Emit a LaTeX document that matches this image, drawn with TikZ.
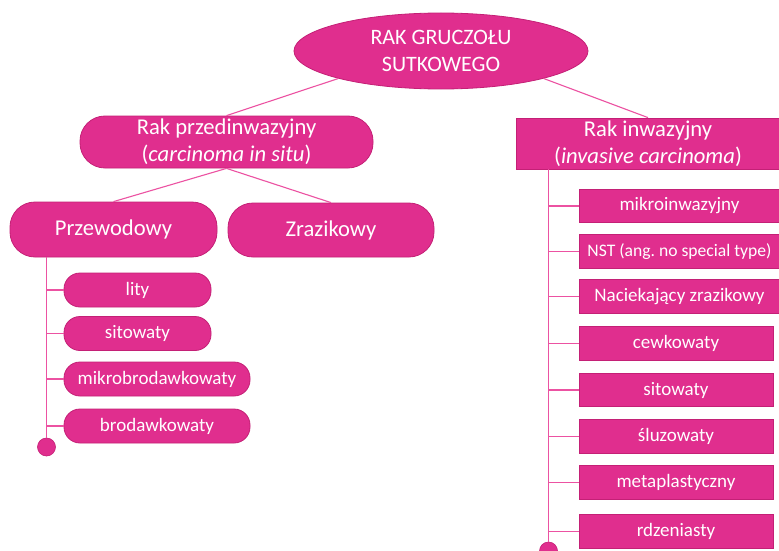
\documentclass[tikz,border=0pt]{standalone}
\usepackage{fontspec}
\setmainfont{Carlito}
\usepackage{tikz}
\usetikzlibrary{shapes.geometric}
\frenchspacing

\definecolor{rakfill}{RGB}{224,46,142}
\definecolor{rakedge}{RGB}{196,32,118}
\definecolor{rakline}{RGB}{236,82,162}

\tikzset{
	rakbase/.style={fill=rakfill,draw=rakedge,line width=0.8pt,text=white,inner sep=0pt,align=center},
	topnode/.style={rakbase,ellipse,font=\fontsize{22}{27.5}\selectfont},
	bignode/.style={rakbase,rounded corners=25pt,font=\fontsize{22.6}{26.8}\selectfont},
	bigbox/.style={rakbase,rectangle,font=\fontsize{22.6}{26.8}\selectfont},
	smallpill/.style={rakbase,rounded corners=16pt,minimum height=34pt,font=\fontsize{19}{22}\selectfont},
	smallbox/.style={rakbase,rectangle,minimum height=33.5pt,font=\fontsize{19}{22}\selectfont},
	enddot/.style={circle,fill=rakfill,draw=rakedge,line width=0.6pt,minimum size=18pt,inner sep=0pt},
	link/.style={draw=rakline,line width=1.1pt}
}

\begin{document}
\begin{tikzpicture}[x=1pt,y=-1pt]
		\clip (0,0) rectangle (779,551);
		\fill [white] (0,0) rectangle (779,551);
		% root
		\node [topnode,minimum width=294pt,minimum height=76pt] (top) at (441,51) {RAK GRUCZOŁU\\SUTKOWEGO};
		% carcinoma in situ
		\node [bignode,minimum width=293pt,minimum height=52pt] (przed) at (226.5,142) {Rak przedinwazyjny\\(\textit{carcinoma in situ})};
		\node [bignode,minimum width=207pt,minimum height=55pt] (przew) at (113.5,229.5) {Przewodowy};
		\node [bignode,minimum width=206pt,minimum height=54pt] (zraz) at (331,230) {Zrazikowy};
		\node [smallpill,minimum width=147pt] (lity) at (137.5,290) {lity};
		\node [smallpill,minimum width=147pt] (sitL) at (137.5,333.5) {sitowaty};
		\node [smallpill,minimum width=186pt] (mikrob) at (157,379) {mikrobrodawkowaty};
		\node [smallpill,minimum width=186pt] (brod) at (157,426) {brodawkowaty};
		\node [enddot] (dotL) at (46.5,447) {};
		% invasive carcinoma
		\node [bigbox,minimum width=264pt,minimum height=51pt] (inw) at (648,143.5) {Rak inwazyjny\\(\textit{invasive carcinoma})};
		\node [smallbox,minimum width=201pt] (mikroi) at (679.5,206) {mikroinwazyjny};
		\node [smallbox,minimum width=201pt,font=\fontsize{17.6}{21}\selectfont] (nst) at (679.5,251.5) {NST (ang. no special type)};
		\node [smallbox,minimum width=201pt] (nacz) at (679.5,296.5) {Naciekający zrazikowy};
		\node [smallbox,minimum width=194pt] (cewk) at (676,343.5) {cewkowaty};
		\node [smallbox,minimum width=194pt] (sitR) at (676,390) {sitowaty};
		\node [smallbox,minimum width=194pt] (sluz) at (676,436.5) {śluzowaty};
		\node [smallbox,minimum width=194pt] (meta) at (676,482.5) {metaplastyczny};
		\node [smallbox,minimum width=194pt] (rdz) at (676,531.5) {rdzeniasty};
		\node [enddot] (dotR) at (548.5,551) {};
		% connectors
		\draw [link] (top.195) -- (przed.north);
		\draw [link] (top.-15) -- (inw.north);
		\draw [link] (przed.south) -- (przew.north);
		\draw [link] (przed.south) -- (zraz.north);
		\draw [link] (przew.south -| dotL) -- (dotL.north);
		\foreach \n in {lity,sitL,mikrob,brod}
			\draw [link] (dotL |- \n.west) -- (\n.west);
		\draw [link] (inw.south -| dotR) -- (dotR.north);
		\foreach \n in {mikroi,nst,nacz,cewk,sitR,sluz,meta,rdz}
			\draw [link] (dotR |- \n.west) -- (\n.west);
	\end{tikzpicture}
\end{document}
